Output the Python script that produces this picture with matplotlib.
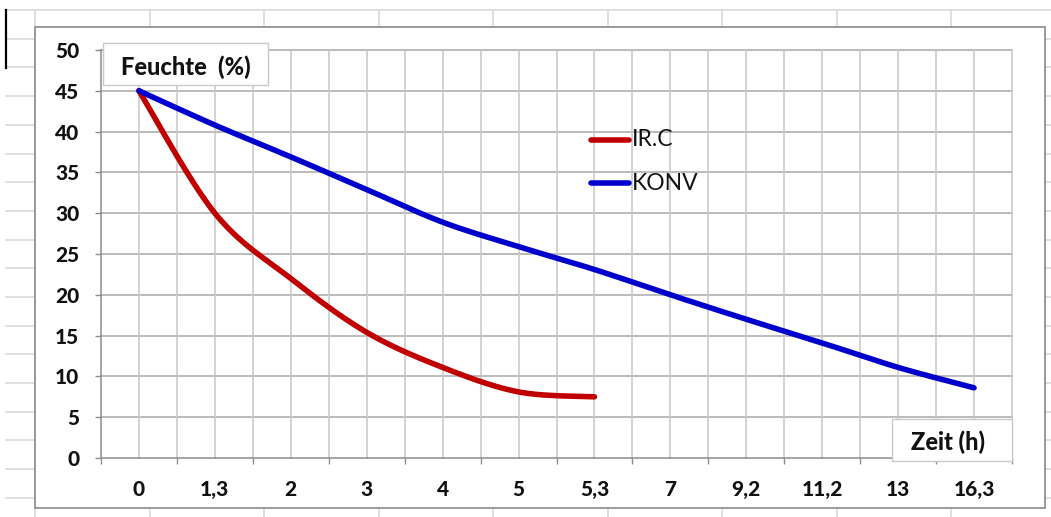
import numpy as np
import matplotlib
matplotlib.use("Agg")
import matplotlib.pyplot as plt
from matplotlib.lines import Line2D
from matplotlib.patches import Rectangle

# ---------------- data ----------------
categories = ["0", "1,3", "2", "3", "4", "5", "5,3", "7", "9,2", "11,2", "13", "16,3"]
ir_c = [45, 30, 22, 15.4, 11.1, 8.1, 7.5]
konv = [45, 40.8, 36.9, 32.9, 28.9, 25.9, 23.1, 20, 17, 14.1, 11.1, 8.6]
y_ticks = [0, 5, 10, 15, 20, 25, 30, 35, 40, 45, 50]
series_names = ["IR.C", "KONV"]
y_title = "Feuchte  (%)"
x_title = "Zeit (h)"

# ---------------- helpers ----------------
W, H = 1051, 517
FONT = "Lato"
BOLD = 900


def fx(px):
    return px / W


def fy(py):
    return 1 - py / H


def excel_smooth(ys, n=24):
    xs = np.arange(len(ys), dtype=float)
    pts = np.column_stack([xs, np.asarray(ys, dtype=float)])
    out = [pts[0]]
    t = np.linspace(0, 1, n)[1:]
    for i in range(len(pts) - 1):
        p0 = pts[i - 1] if i > 0 else pts[i]
        p1 = pts[i]
        p2 = pts[i + 1]
        p3 = pts[i + 2] if i + 2 < len(pts) else pts[i + 1]
        c1 = p1 + (p2 - p0) / 6
        c2 = p2 - (p3 - p1) / 6
        seg = (((1 - t) ** 3)[:, None] * p1 + (3 * (1 - t) ** 2 * t)[:, None] * c1
               + (3 * (1 - t) * t ** 2)[:, None] * c2 + (t ** 3)[:, None] * p2)
        out.extend(seg)
    out = np.array(out)
    return out[:, 0], out[:, 1]


fig = plt.figure(figsize=(W / 100, H / 100), dpi=100)
fig.patch.set_facecolor("white")

# spreadsheet background grid
sheet_col = "#D9D9D9"
y = 10.0
while y < H:
    fig.add_artist(Line2D([fx(6), 1], [fy(y), fy(y)], color=sheet_col, lw=1.2,
                          transform=fig.transFigure, zorder=-5))
    y += 28.7
x = 35.0
while x < W:
    fig.add_artist(Line2D([fx(x), fx(x)], [fy(10), 0], color=sheet_col, lw=1.2,
                          transform=fig.transFigure, zorder=-5))
    x += 114.5
# cell cursor
fig.add_artist(Line2D([fx(6), fx(6)], [fy(10), fy(68)], color="black", lw=1.6,
                      transform=fig.transFigure, zorder=-4))

# chart area
fig.add_artist(Rectangle((fx(35), fy(508)), fx(1045) - fx(35), fy(27) - fy(508),
                         transform=fig.transFigure, facecolor="white",
                         edgecolor="#8A8A8A", lw=1.2, zorder=-3))

# plot area
ax = fig.add_axes([fx(101), fy(458), fx(1012) - fx(101), fy(50) - fy(458)])
ax.set_facecolor("white")
n = len(categories)
ax.set_xlim(-0.5, n - 0.5)
ax.set_ylim(0, 50)

# gridlines
for v in y_ticks[1:]:
    ax.plot([-0.5, n - 0.5], [v, v], color="#A8A8A8", lw=1.1, zorder=1, clip_on=False)
for k in range(n):
    ax.plot([k, k], [0, 50], color="#C6C6C6", lw=1.1, zorder=1, clip_on=False)
for k in range(1, n + 1):
    ax.plot([k - 0.5, k - 0.5], [0, 50], color="#C6C6C6", lw=1.1, zorder=1, clip_on=False)

for s in ["top", "right"]:
    ax.spines[s].set_visible(False)
for s in ["left", "bottom"]:
    ax.spines[s].set_color("#8C8C8C")
    ax.spines[s].set_linewidth(1.1)

ax.set_yticks(y_ticks)
ax.set_yticklabels([str(v) for v in y_ticks])
ax.tick_params(axis="y", length=4.5, width=1.0, color="#8C8C8C", pad=11,
               labelsize=15, labelcolor="#111111")

ax.set_xticks(np.arange(n + 1) - 0.5)
ax.set_xticklabels([])
ax.set_xticks(np.arange(n), minor=True)
ax.set_xticklabels(categories, minor=True)
ax.tick_params(axis="x", which="major", length=4.5, width=1.0, color="#8C8C8C")
ax.tick_params(axis="x", which="minor", length=0, pad=16, labelsize=15,
               labelcolor="#111111")
for lab in ax.get_yticklabels() + ax.get_xticklabels(minor=True):
    lab.set_fontfamily(FONT)
    lab.set_fontweight(BOLD)

# series
red = "#C00000"
blue = "#0000CC"
sx, sy = excel_smooth(ir_c)
ax.plot(sx, sy, color=red, lw=4.0, solid_capstyle="round", zorder=3, clip_on=False)
sx, sy = excel_smooth(konv)
ax.plot(sx, sy, color=blue, lw=4.0, solid_capstyle="round", zorder=3, clip_on=False)

# legend
for name, col, py in [(series_names[0], red, 140), (series_names[1], blue, 183)]:
    fig.add_artist(Line2D([fx(591), fx(629)], [fy(py), fy(py)], color=col, lw=4.0,
                          solid_capstyle="round", transform=fig.transFigure, zorder=5))
    fig.text(fx(632), fy(py), name, fontsize=16.5, family=FONT, color="#111111",
             ha="left", va="center", zorder=6)

# axis title boxes
fig.add_artist(Rectangle((fx(103), fy(85)), fx(268) - fx(103), fy(43) - fy(85),
                         transform=fig.transFigure, facecolor="white",
                         edgecolor="#C8C8C8", lw=1.0, zorder=5))
fig.text(fx(185.5), fy(67), y_title, fontsize=17, family=FONT, fontweight=BOLD,
         color="#111111", ha="center", va="center", zorder=6)
fig.add_artist(Rectangle((fx(892), fy(461)), fx(1012) - fx(892), fy(419) - fy(461),
                         transform=fig.transFigure, facecolor="white",
                         edgecolor="#C8C8C8", lw=1.0, zorder=5))
fig.text(fx(948), fy(442), x_title, fontsize=17, family=FONT, fontweight=BOLD,
         color="#111111", ha="center", va="center", zorder=6)

fig.savefig("out.png", dpi=100, facecolor="white")
